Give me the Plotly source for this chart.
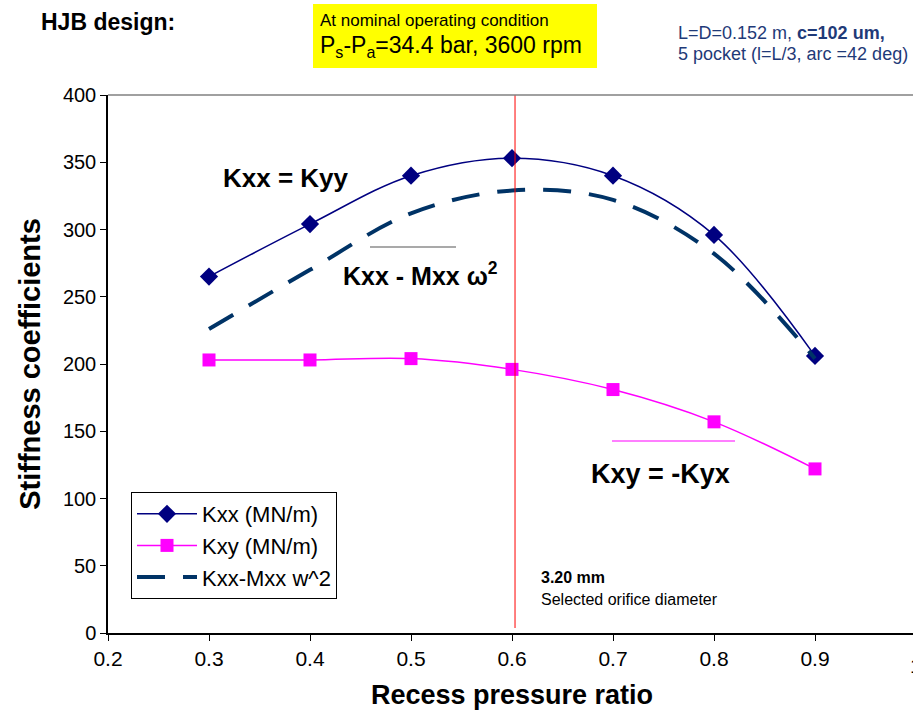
import plotly.graph_objects as go

# ---- data ----
ratio = [0.3, 0.4, 0.5, 0.6, 0.7, 0.8, 0.9]
kxx = [265, 304, 340, 353, 340, 296, 206]
kxy = [203, 203, 204, 196, 181, 157, 122]
kxx_mw2 = [226, 270, 312, 329, 322, 282, 204]
orifice_ratio = 0.603
x_ticks = [0.2, 0.3, 0.4, 0.5, 0.6, 0.7, 0.8, 0.9, 1.0]
x_ticklabels = ["0.2", "0.3", "0.4", "0.5", "0.6", "0.7", "0.8", "0.9", "1"]

W, H = 916, 723
OFF = 0
L, R, T, B = 108, 0, 95, 90
PW = W - L - R
PH = H - T - B


def px(x):
    return (x - OFF - L) / PW


def py(y):
    return (H - B - (y - OFF)) / PH


FONT = "Liberation Sans, Arial, sans-serif"

fig = go.Figure()
fig.add_trace(go.Scatter(
    x=ratio, y=kxx, name="Kxx (MN/m)", mode="lines+markers",
    line=dict(color="#000080", width=1.5, shape="spline"),
    marker=dict(symbol="diamond", size=14, color="#000080")))
fig.add_trace(go.Scatter(
    x=ratio, y=kxy, name="Kxy (MN/m)", mode="lines+markers",
    line=dict(color="#FF00FF", width=1.5, shape="spline"),
    marker=dict(symbol="square", size=13, color="#FF00FF")))
fig.add_trace(go.Scatter(
    x=ratio, y=kxx_mw2, name="Kxx-Mxx w^2", mode="lines",
    line=dict(color="#003366", width=4, shape="spline", dash="28px,18px")))

shapes = [
    dict(type="line", xref="x", yref="paper", x0=orifice_ratio, x1=orifice_ratio,
         y0=py(628), y1=1, line=dict(color="#FF0000", width=1)),
    dict(type="line", xref="paper", yref="paper", x0=0, x1=1, y0=1, y1=1,
         line=dict(color="#808080", width=1.5)),
    dict(type="line", xref="paper", yref="paper", x0=px(370), x1=px(456),
         y0=py(247), y1=py(247), line=dict(color="#555555", width=1.2)),
    dict(type="line", xref="paper", yref="paper", x0=px(612), x1=px(735),
         y0=py(441), y1=py(441), line=dict(color="#FF00FF", width=1.2)),
    dict(type="rect", xref="paper", yref="paper", x0=px(313), x1=px(597),
         y0=py(68), y1=py(4), fillcolor="#FFFF00", line=dict(width=0), layer="below"),
]

ann = [
    dict(text="<b>Kxx = Kyy</b>", x=px(221), y=py(178), size=26, color="black"),
    dict(text="<b>Kxx - Mxx ω<sup>2</sup></b>", x=px(341), y=py(274), size=25, color="black"),
    dict(text="<b>Kxy = -Kyx</b>", x=px(589), y=py(474), size=27, color="black"),
    dict(text="<b>3.20 mm</b>", x=px(539), y=py(577), size=16, color="black"),
    dict(text="Selected orifice diameter", x=px(539), y=py(599), size=16, color="black"),
    dict(text="<b>HJB design:</b>", x=px(39), y=py(22), size=23, color="black"),
    dict(text="At nominal operating condition", x=px(318), y=py(21), size=17, color="black"),
    dict(text="P<sub>s</sub>-P<sub>a</sub>=34.4 bar, 3600 rpm", x=px(318), y=py(47), size=23, color="black"),
    dict(text="L=D=0.152 m, <b>c=102 um,</b>", x=px(676), y=py(33), size=18, color="#1F3A78"),
    dict(text="5 pocket (l=L/3, arc =42 deg)", x=px(676), y=py(54), size=18, color="#1F3A78"),
]
annotations = [
    dict(text=a["text"], xref="paper", yref="paper", x=a["x"], y=a["y"],
         xanchor="left", yanchor="middle", showarrow=False,
         font=dict(family=FONT, size=a["size"], color=a["color"]))
    for a in ann
]
# last x tick label ("1"), which sits on the clipped right edge
annotations.append(dict(text=x_ticklabels[-1], xref="x", yref="paper", x=x_ticks[-1], y=py(665),
                        xanchor="center", yanchor="middle", showarrow=False,
                        font=dict(family=FONT, size=21, color="black")))

fig.update_layout(
    width=W, height=H,
    margin=dict(l=L, r=R, t=T, b=B, pad=0),
    paper_bgcolor="white", plot_bgcolor="white",
    font=dict(family=FONT, size=20, color="black"),
    shapes=shapes, annotations=annotations,
    legend=dict(x=px(131), y=py(492), xanchor="left", yanchor="top",
                bordercolor="black", borderwidth=1, bgcolor="white",
                font=dict(size=22), tracegroupgap=0, itemwidth=60),
    xaxis=dict(range=[0.2, 1.0], tickmode="array", tickvals=x_ticks[:-1], ticktext=x_ticklabels[:-1],
               showgrid=False, zeroline=False, showline=True, linecolor="black",
               linewidth=1.5, ticks="outside", ticklen=6, tickcolor="black",
               tickfont=dict(size=21),
               title=dict(text="<b>Recess pressure ratio</b>", font=dict(size=27), standoff=16)),
    yaxis=dict(range=[0, 400], tickmode="linear", tick0=0, dtick=50,
               showgrid=False, zeroline=False, showline=True, linecolor="black",
               linewidth=1.5, ticks="outside", ticklen=6, tickcolor="black",
               tickfont=dict(size=20),
               title=dict(text="<b>Stiffness coefficients</b>", font=dict(size=29), standoff=14)),
)

fig.write_html(
    "out.html",
    config={"displayModeBar": False},
    post_script="document.body.style.margin='0';document.body.style.overflow='hidden';",
)
